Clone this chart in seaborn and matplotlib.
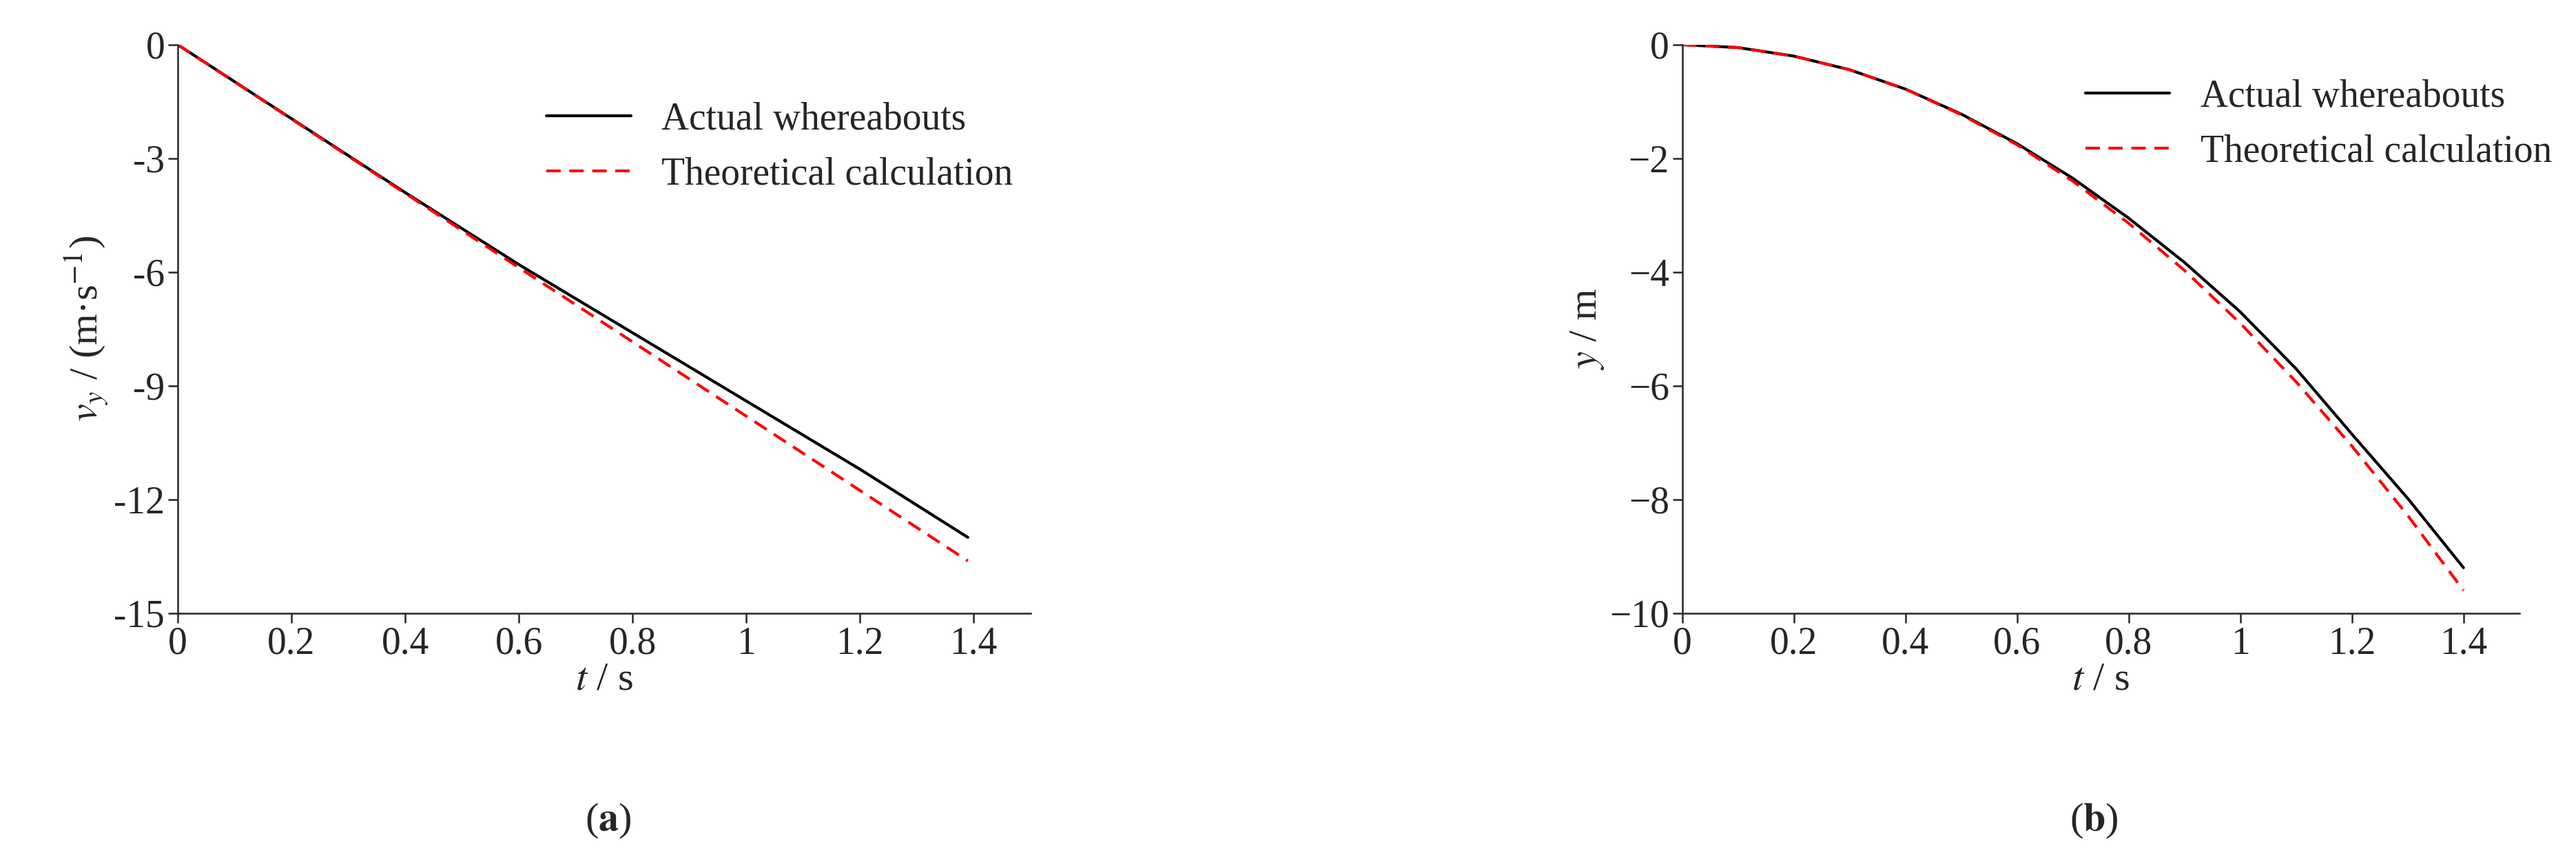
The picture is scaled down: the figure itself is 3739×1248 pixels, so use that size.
import numpy as np
import pandas as pd
import matplotlib
matplotlib.use("Agg")
import matplotlib.pyplot as plt
import seaborn as sns

# --- Data ---
t_v = [0, 0.2, 0.4, 0.6, 0.8, 1.0, 1.2, 1.39]
vy_actual = [0, -1.95, -3.9, -5.8, -7.6, -9.4, -11.2, -13.0]
vy_theory = [0, -1.96, -3.92, -5.88, -7.84, -9.8, -11.76, -13.62]

t_y = [0, 0.1, 0.2, 0.3, 0.4, 0.5, 0.6, 0.7, 0.8, 0.9, 1.0, 1.1, 1.2, 1.3, 1.4]
y_actual = [0, -0.05, -0.2, -0.44, -0.78, -1.22, -1.74, -2.35, -3.05, -3.83,
            -4.7, -5.7, -6.85, -7.98, -9.2]
y_theory = [0, -0.05, -0.2, -0.44, -0.78, -1.23, -1.76, -2.40, -3.14, -3.97,
            -4.9, -5.93, -7.06, -8.28, -9.6]

x_ticks = [0, 0.2, 0.4, 0.6, 0.8, 1, 1.2, 1.4]
x_labels = ["0", "0.2", "0.4", "0.6", "0.8", "1", "1.2", "1.4"]

FS = 40

sns.set_style("ticks")
plt.rcParams['font.family'] = ['Liberation Serif', 'DejaVu Serif']
plt.rcParams['mathtext.fontset'] = 'stix'
plt.rcParams['font.size'] = FS

fig = plt.figure(figsize=(37.39, 12.48), dpi=100)
ax1 = fig.add_axes([0.069, 0.287, 0.331, 0.661])
ax2 = fig.add_axes([0.653, 0.287, 0.325, 0.661])


def draw(ax, t, a, th):
    sns.lineplot(x=t, y=a, ax=ax, color="black", lw=3, label="Actual whereabouts")
    sns.lineplot(x=t, y=th, ax=ax, color="red", lw=3, linestyle=(0, (5, 3)),
                 label="Theoretical calculation")
    ax.set_xlim(0, 1.5)
    ax.set_xticks(x_ticks)
    ax.set_xticklabels(x_labels)
    ax.set_xlabel("$t$ / s", labelpad=0, fontsize=FS + 2)
    sns.despine(ax=ax)
    for s in ax.spines.values():
        s.set_linewidth(1.8)
    ax.tick_params(width=1.8, length=10, labelsize=FS)


draw(ax1, t_v, vy_actual, vy_theory)
ax1.set_ylim(-15, 0)
ax1.set_yticks([0, -3, -6, -9, -12, -15])
ax1.set_yticklabels(["0", "-3", "-6", "-9", "-12", "-15"])
ax1.set_ylabel("$v_y$ / (m·s$^{-1}$)", fontsize=FS + 2)
ax1.legend(frameon=False, loc="upper right", fontsize=FS, handlelength=2.2,
           bbox_to_anchor=(1.02, 0.96))

draw(ax2, t_y, y_actual, y_theory)
ax2.set_ylim(-10, 0)
ax2.set_yticks([0, -2, -4, -6, -8, -10])
ax2.set_ylabel("$y$ / m", fontsize=FS + 2)
ax2.legend(frameon=False, loc="upper right", fontsize=FS, handlelength=2.2,
           bbox_to_anchor=(1.08, 1.0))

fig.text(0.236, 0.035, r"($\mathbf{a}$)", ha="center", fontsize=FS + 2)
fig.text(0.813, 0.035, r"($\mathbf{b}$)", ha="center", fontsize=FS + 2)

fig.savefig("out.png", dpi=100)
